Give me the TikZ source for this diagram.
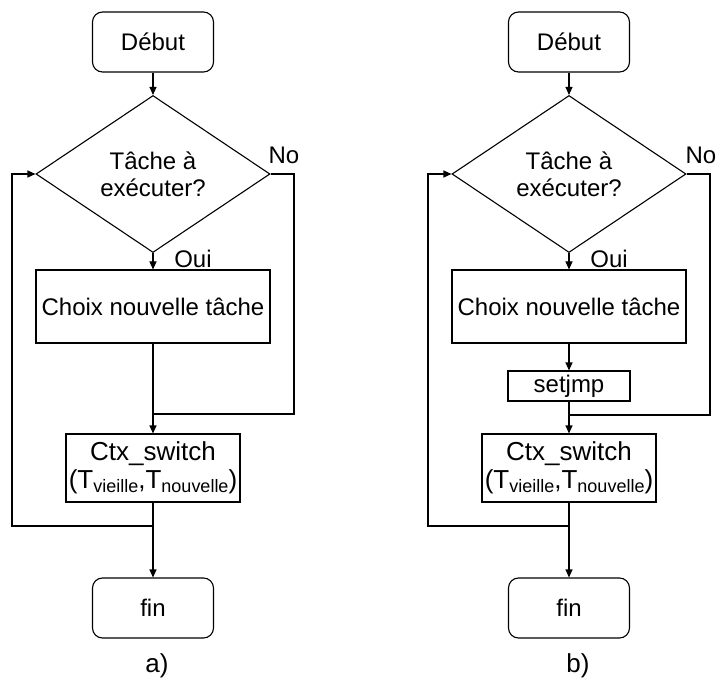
\documentclass[tikz,border=0pt]{standalone}
\usepackage{fontspec}
\setmainfont{Liberation Sans}
\usetikzlibrary{shapes.geometric,arrows.meta}

% subscript set at a fixed size
\newcommand{\lowidx}[1]{\raisebox{-0.3\height}{\fontsize{18}{18}\selectfont #1}}

\begin{document}
\begin{tikzpicture}[x=1pt,y=-1pt,
  every node/.style={font=\fontsize{24}{27}\selectfont},
  term/.style={draw, line width=1.1pt, rounded corners=10pt, minimum width=121pt, minimum height=60pt, inner sep=0pt},
  proc/.style={draw, line width=1.1pt, inner sep=0pt, align=center},
  ctxbox/.style={proc, minimum width=174pt, minimum height=68pt, font=\fontsize{26}{28}\selectfont},
  decision/.style={draw, line width=1.1pt, diamond, minimum width=234pt, minimum height=157pt, inner sep=0pt, align=center},
  flow/.style={line width=1.1pt},
  arr/.style={flow, -{Triangle[length=8pt,width=7pt]}},
  lbl/.style={inner sep=0pt},
  tag/.style={inner sep=0pt, font=\fontsize{26}{28}\selectfont}
]
\useasboundingbox (0,0) rectangle (716,682);
\clip (0,0) rectangle (716,682);

% ---------- a) ----------
\node[term] (aDebut) at (153,42) {Début};
\node[decision] (aDec) at (153,174) {Tâche à\\exécuter?};
\node[proc, minimum width=234pt, minimum height=73pt] (aChoix) at (153,306.5) {Choix nouvelle tâche};
\node[ctxbox] (aCtx) at (153,468) {Ctx\_switch\\(T\lowidx{vieille},T\lowidx{nouvelle})};
\node[term] (aFin) at (153,608) {fin};
\node[lbl] (aNo) at (284,155) {No};
\node[lbl] (aOui) at (193,259) {Oui};
\node[tag] (aTag) at (157,666) {a)};

\coordinate (aRight) at (294,414);
\coordinate (aJoin) at (153,414);
\coordinate (aLeft) at (12,526);
\coordinate (aOut) at (153,526);

\draw[arr] (aDebut.south) -- (aDec.north);
\draw[arr] (aDec.south) -- (aChoix.north);
\draw[arr] (aChoix.south) -- (aCtx.north);
\draw[arr] (aCtx.south) -- (aFin.north);
\draw[flow] (aDec.east) -| (aRight) -- (aJoin);
\draw[arr] (aOut) -- (aLeft) |- (aDec.west);

% ---------- b) ----------
\node[term] (bDebut) at (569,42) {Début};
\node[decision] (bDec) at (569,174) {Tâche à\\exécuter?};
\node[proc, minimum width=234pt, minimum height=73pt] (bChoix) at (569,306.5) {Choix nouvelle tâche};
\node[proc, minimum width=122pt, minimum height=30pt] (bSet) at (569,386) {setjmp};
\node[ctxbox] (bCtx) at (569,468) {Ctx\_switch\\(T\lowidx{vieille},T\lowidx{nouvelle})};
\node[term] (bFin) at (569,608) {fin};
\node[lbl] (bNo) at (701,155) {No};
\node[lbl] (bOui) at (609,259) {Oui};
\node[tag] (bTag) at (578,666) {b)};

\coordinate (bRight) at (710,415);
\coordinate (bJoin) at (569,415);
\coordinate (bLeft) at (428,526);
\coordinate (bOut) at (569,526);

\draw[arr] (bDebut.south) -- (bDec.north);
\draw[arr] (bDec.south) -- (bChoix.north);
\draw[arr] (bChoix.south) -- (bSet.north);
\draw[arr] (bSet.south) -- (bCtx.north);
\draw[arr] (bCtx.south) -- (bFin.north);
\draw[flow] (bDec.east) -| (bRight) -- (bJoin);
\draw[arr] (bOut) -- (bLeft) |- (bDec.west);
\end{tikzpicture}
\end{document}
